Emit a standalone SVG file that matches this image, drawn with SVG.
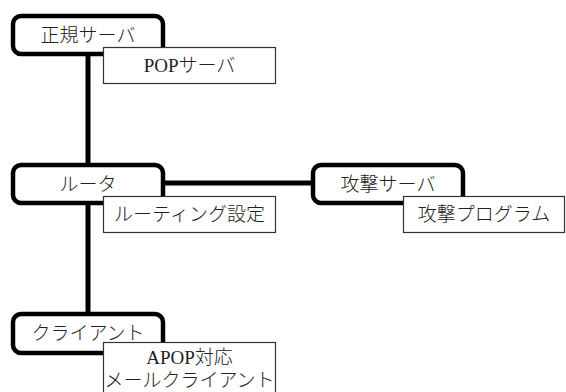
<svg xmlns="http://www.w3.org/2000/svg" width="566" height="392" viewBox="0 0 566 392">
<style>
.main{fill:#fff;stroke:#000;stroke-width:4.5}
.sub{fill:#fff;stroke:#333;stroke-width:1.2}
.conn{stroke:#000;stroke-width:5;fill:none}
text{font-family:"Liberation Serif","Noto Sans CJK JP",serif;font-size:19px;font-weight:300;fill:#222;text-anchor:middle;dominant-baseline:central}
</style>
<rect width="566" height="392" fill="#fff"/>
<g id="connectors">
<line class="conn" x1="88" y1="54" x2="88" y2="166"/>
<line class="conn" x1="88" y1="202" x2="88" y2="314"/>
<line class="conn" x1="162" y1="183" x2="314" y2="183"/>
</g>
<g id="seiki-server">
<rect class="main" x="13" y="16" width="150" height="38" rx="8"/>
<text x="88" y="35">正規サーバ</text>
</g>
<g id="router">
<rect class="main" x="13" y="165" width="150" height="38" rx="8"/>
<text x="88" y="184">ルータ</text>
</g>
<g id="attack-server">
<rect class="main" x="313" y="165" width="150" height="38" rx="8"/>
<text x="388" y="184">攻撃サーバ</text>
</g>
<g id="client">
<rect class="main" x="13" y="314" width="150" height="39" rx="8"/>
<text x="88" y="333">クライアント</text>
</g>
<g id="pop-server">
<rect class="sub" x="103.5" y="47.5" width="172" height="36"/>
<text x="189.5" y="65.5">POPサーバ</text>
</g>
<g id="routing">
<rect class="sub" x="103.5" y="196.5" width="172" height="36"/>
<text x="189.5" y="214.5">ルーティング設定</text>
</g>
<g id="attack-program">
<rect class="sub" x="403.5" y="196.5" width="161" height="36"/>
<text x="484" y="214.5">攻撃プログラム</text>
</g>
<g id="apop-client">
<rect class="sub" x="103.5" y="342.5" width="172" height="52"/>
<text x="189.5" y="357">APOP対応</text>
<text x="189.5" y="380">メールクライアント</text>
</g>
</svg>
